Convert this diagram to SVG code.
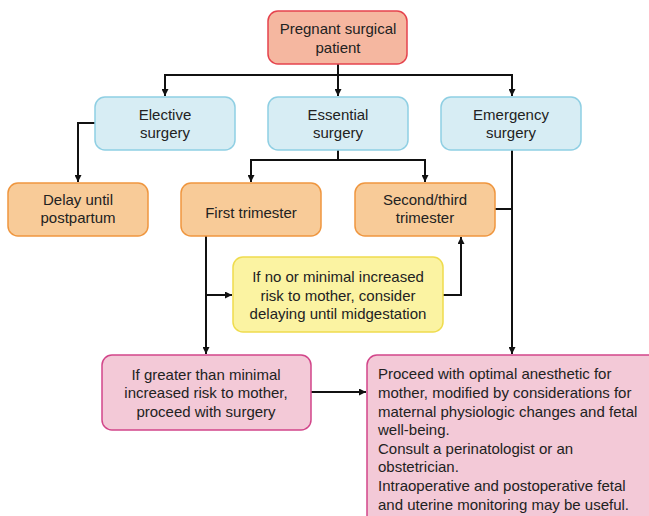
<svg xmlns="http://www.w3.org/2000/svg" width="649" height="516" viewBox="0 0 649 516">
<defs>
<marker id="ah" viewBox="0 0 10 10" refX="10" refY="5" markerWidth="9" markerHeight="7" markerUnits="userSpaceOnUse" orient="auto">
<path d="M0,0 L10,5 L0,10 z" fill="#111"/>
</marker>
<style>
text{font-family:"Liberation Sans",Arial,sans-serif;font-size:15px;fill:#222;text-anchor:middle}
.l{text-anchor:start}
.red{fill:#f5b7a0;stroke:#e5434d;stroke-width:1.5}
.blue{fill:#d7edf4;stroke:#8fcfe3;stroke-width:1.5}
.org{fill:#f8cb98;stroke:#ef963f;stroke-width:1.5}
.yel{fill:#fbf3a2;stroke:#efdc4e;stroke-width:1.5}
.pink{fill:#f3c9d7;stroke:#d2468a;stroke-width:1.5}
.c{fill:none;stroke:#111;stroke-width:2}
</style>
</defs>
<rect width="649" height="516" fill="#fff"/>
<g id="connectors">
<path class="c" d="M338,64 V96" marker-end="url(#ah)"/>
<path class="c" d="M165,96 V75 H512 V96" marker-end="url(#ah)"/>
<path class="c" d="M165,75 V96" marker-end="url(#ah)"/>
<path class="c" d="M95,123 H78 V182" marker-end="url(#ah)"/>
<path class="c" d="M338,150 V160 H251 V182" marker-end="url(#ah)"/>
<path class="c" d="M338,160 H425 V182" marker-end="url(#ah)"/>
<path class="c" d="M512,150 V354" marker-end="url(#ah)"/>
<path class="c" d="M495,209 H512"/>
<path class="c" d="M206,236 V354" marker-end="url(#ah)"/>
<path class="c" d="M206,295 H232" marker-end="url(#ah)"/>
<path class="c" d="M443,295 H461 V237" marker-end="url(#ah)"/>
<path class="c" d="M311,392 H366" marker-end="url(#ah)"/>
</g>
<g id="pregnant">
<rect class="red" x="268" y="11" width="139" height="53" rx="10"/>
<text x="338" y="34">Pregnant surgical</text>
<text x="338" y="53">patient</text>
</g>
<g id="elective">
<rect class="blue" x="95" y="97" width="140" height="53" rx="10"/>
<text x="165" y="120">Elective</text>
<text x="165" y="138">surgery</text>
</g>
<g id="essential">
<rect class="blue" x="268" y="97" width="140" height="53" rx="10"/>
<text x="338" y="120">Essential</text>
<text x="338" y="138">surgery</text>
</g>
<g id="emergency">
<rect class="blue" x="441" y="97" width="140" height="53" rx="10"/>
<text x="511" y="120">Emergency</text>
<text x="511" y="138">surgery</text>
</g>
<g id="delay">
<rect class="org" x="8" y="183" width="140" height="53" rx="10"/>
<text x="78" y="205">Delay until</text>
<text x="78" y="223">postpartum</text>
</g>
<g id="first">
<rect class="org" x="181" y="183" width="140" height="53" rx="10"/>
<text x="251" y="218">First trimester</text>
</g>
<g id="second">
<rect class="org" x="355" y="183" width="140" height="53" rx="10"/>
<text x="425" y="205">Second/third</text>
<text x="425" y="223">trimester</text>
</g>
<g id="minimal">
<rect class="yel" x="233" y="257" width="210" height="75" rx="10"/>
<text x="338" y="282">If no or minimal increased</text>
<text x="338" y="301">risk to mother, consider</text>
<text x="338" y="319">delaying until midgestation</text>
</g>
<g id="greater">
<rect class="pink" x="102" y="355" width="209" height="75" rx="10"/>
<text x="206" y="380">If greater than minimal</text>
<text x="206" y="398">increased risk to mother,</text>
<text x="206" y="417">proceed with surgery</text>
</g>
<g id="proceed">
<rect class="pink" x="367" y="355" width="300" height="180" rx="10"/>
<text class="l" x="378" y="379">Proceed with optimal anesthetic for</text>
<text class="l" x="378" y="398">mother, modified by considerations for</text>
<text class="l" x="378" y="417">maternal physiologic changes and fetal</text>
<text class="l" x="378" y="435">well-being.</text>
<text class="l" x="378" y="454">Consult a perinatologist or an</text>
<text class="l" x="378" y="472">obstetrician.</text>
<text class="l" x="378" y="491">Intraoperative and postoperative fetal</text>
<text class="l" x="378" y="510">and uterine monitoring may be useful.</text>
</g>
</svg>
